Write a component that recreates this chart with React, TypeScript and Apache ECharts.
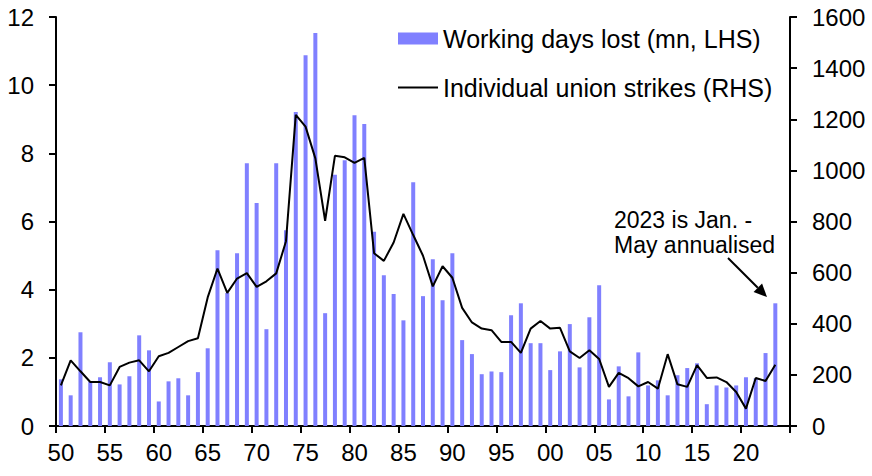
import React, { useEffect, useRef } from "react";
import * as echarts from "echarts";

const years: string[] = Array.from({ length: 75 }, (_, i) => String(1950 + i));

const workingDaysLost: (number | null)[] = [
  1.37, 0.9, 2.75, 1.3, 1.43, 1.87, 1.22, 1.46, 2.66, 2.22,
  0.72, 1.31, 1.4, 0.9, 1.58, 2.28, 5.16, 3.9, 5.07, 7.71,
  6.54, 2.84, 7.71, 5.74, 9.21, 10.88, 11.53, 3.31, 7.37, 7.8,
  9.12, 8.86, 5.7, 4.42, 3.87, 3.1, 7.15, 3.81, 4.89, 3.69,
  5.07, 2.52, 2.11, 1.52, 1.6, 1.58, 3.25, 3.6, 2.43, 2.43,
  1.64, 2.19, 2.99, 1.72, 3.19, 4.13, 0.78, 1.75, 0.87, 2.16,
  1.19, 1.34, 0.9, 1.49, 1.7, 1.84, 0.64, 1.19, 1.13, 1.19,
  1.43, 1.4, 2.14, 3.6, null,
];

const unionStrikes: (number | null)[] = [
  159, 257, 214, 172, 172, 159, 231, 248, 257, 214,
  273, 286, 309, 332, 343, 503, 616, 521, 577, 598,
  544, 566, 597, 723, 1217, 1171, 1047, 803, 1057, 1051,
  1029, 1049, 676, 646, 718, 830, 747, 666, 546, 625,
  580, 462, 405, 381, 375, 329, 329, 286, 381, 411,
  381, 384, 292, 266, 296, 262, 153, 208, 187, 155,
  172, 146, 281, 163, 153, 238, 188, 190, 172, 133,
  68, 188, 176, 240, null,
];

const barName = "Working days lost (mn, LHS)";
const lineName = "Individual union strikes (RHS)";
const annotation = "2023 is Jan. -\nMay annualised";

const FONT = "Liberation Sans, Arial, sans-serif";

export default function App() {
  const ref = useRef<HTMLDivElement>(null);
  useEffect(() => {
    if (!ref.current) return;
    const chart = echarts.init(ref.current, null, { renderer: "svg" });
    const axisLine = { show: true, lineStyle: { color: "#000", width: 2 } };
    const axisTick = { show: true, length: 7, lineStyle: { color: "#000", width: 2 } };
    // arrow geometry
    const tip = [767, 297];
    const start = [728, 258];
    const dx = tip[0] - start[0];
    const dy = tip[1] - start[1];
    const len = Math.hypot(dx, dy);
    const ux = dx / len, uy = dy / len;
    const px = -uy, py = ux;
    const headL = 13, headW = 6;
    const bx = tip[0] - ux * headL, by = tip[1] - uy * headL;
    chart.setOption({
      animation: false,
      textStyle: { fontFamily: FONT },
      grid: { left: 56, right: 82, top: 17, bottom: 50, containLabel: false },
      legend: {
        orient: "vertical",
        left: 397,
        top: 26,
        padding: 0,
        itemWidth: 40,
        itemHeight: 12,
        itemGap: 24,
        textStyle: { fontSize: 25, lineHeight: 25, color: "#000", fontFamily: FONT },
        data: [
          { name: barName, icon: "rect" },
          { name: lineName, itemStyle: { opacity: 0 } },
        ],
      },
      xAxis: {
        type: "category",
        data: years,
        boundaryGap: true,
        axisLine,
        axisTick: { ...axisTick, interval: 4 },
        axisLabel: {
          interval: 4,
          margin: 14,
          fontSize: 24,
          color: "#000",
          fontFamily: FONT,
          formatter: (v: string) => v.slice(2),
        },
        splitLine: { show: false },
      },
      yAxis: [
        {
          type: "value",
          min: 0,
          max: 12,
          interval: 2,
          position: "left",
          axisLine,
          axisTick,
          axisLabel: { margin: 22, fontSize: 24, color: "#000", fontFamily: FONT },
          splitLine: { show: false },
        },
        {
          type: "value",
          min: 0,
          max: 1600,
          interval: 200,
          position: "right",
          axisLine,
          axisTick,
          axisLabel: {
            margin: 22,
            fontSize: 24,
            color: "#000",
            fontFamily: FONT,
            formatter: (v: number) => String(v),
          },
          splitLine: { show: false },
        },
      ],
      series: [
        {
          name: barName,
          type: "bar",
          data: workingDaysLost,
          yAxisIndex: 0,
          barWidth: 4,
          itemStyle: { color: "#8080FF" },
        },
        {
          name: lineName,
          type: "line",
          data: unionStrikes,
          yAxisIndex: 1,
          symbol: "none",
          lineStyle: { color: "#000", width: 2 },
          itemStyle: { color: "#000" },
        },
      ],
      graphic: [
        {
          type: "text",
          left: 614,
          top: 207,
          style: { text: annotation, font: `23px ${FONT}`, lineHeight: 25, fill: "#000" },
        },
        {
          type: "line",
          shape: { x1: start[0], y1: start[1], x2: bx, y2: by },
          style: { stroke: "#000", lineWidth: 2 },
        },
        {
          type: "polygon",
          shape: {
            points: [
              [tip[0], tip[1]],
              [bx + px * headW, by + py * headW],
              [bx - px * headW, by - py * headW],
            ],
          },
          style: { fill: "#000" },
        },
      ],
    });
    return () => chart.dispose();
  }, []);
  return (
    <div
      ref={ref}
      style={{ position: "fixed", left: 0, top: 0, width: 872, height: 476, background: "#fff" }}
    />
  );
}
